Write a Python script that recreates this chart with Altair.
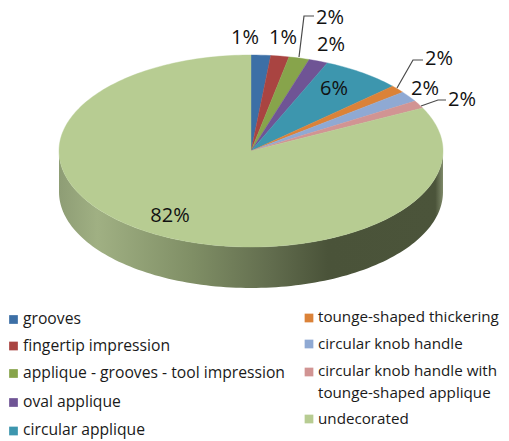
import math
import altair as alt
import pandas as pd

categories = ["grooves", "fingertip impression", "applique - grooves - tool impression",
              "oval applique", "circular applique", "tounge-shaped thickering",
              "circular knob handle", "circular knob handle with tounge-shaped applique",
              "undecorated"]
values = [1.64, 1.53, 1.73, 1.60, 6.70, 1.30, 1.80, 1.30, 82.40]
slice_colors = ["#3c6fa6", "#a94441", "#87a44b", "#6f5495", "#3d96ae",
                "#db8238", "#8fa9d3", "#d19493", "#b7cc92"]
label_texts = ["1%", "1%", "2%", "2%", "6%", "2%", "2%", "2%", "82%"]

# Layout (page pixel coordinates)
CX, CY, RX, RY, DEPTH = 251, 151, 192, 96, 41
label_x = [245, 283, 330, 331, 334, 439, 425, 462, 170]
label_y = [38, 38, 18, 45, 89, 59, 89, 100, 216]
leaders = [[(299, 57), (304, 16), (314, 16)],
           [(397, 88), (413, 60), (423, 60)],
           [(421, 106), (438, 100), (446, 100)]]
legend_rows = [
    (13.5, 319.5, 23, 319, "grooves", 0),
    (13.5, 346, 23, 346, "fingertip impression", 1),
    (13.5, 373.5, 23, 373, "applique - grooves - tool impression", 2),
    (13.5, 402.5, 23, 402, "oval applique", 3),
    (13.5, 431, 23, 430, "circular applique", 4),
    (309, 318, 318, 317, "tounge-shaped thickering", 5),
    (309, 344, 318, 344, "circular knob handle", 6),
    (309, 372, 318, 371, "circular knob handle with", 7),
    (309, 419, 318, 419, "undecorated", 8),
]
extra_line = ("tounge-shaped applique", 318, 393)

FONT = "Open Sans"
W, H = 493, 433
xs = alt.X("x:Q", scale=alt.Scale(domain=[8, 8 + W], nice=False, zero=False), axis=None)
ys = alt.Y("y:Q", scale=alt.Scale(domain=[8, 8 + H], reverse=True, nice=False, zero=False), axis=None)


def rim(t):
    return CX + RX * math.sin(t), CY - RY * math.cos(t)


# Top-face wedges
rows = []
start = 0.0
total = sum(values)
for k, (name, v) in enumerate(zip(categories, values)):
    a0 = start / total * 2 * math.pi
    a1 = (start + v) / total * 2 * math.pi
    n = max(3, int(v * 3))
    pts = [(CX, CY)] + [rim(a0 + (a1 - a0) * i / n) for i in range(n + 1)] + [(CX, CY)]
    rows += [{"name": name, "x": p[0], "y": p[1], "i": i} for i, p in enumerate(pts)]
    start += v
wedges = pd.DataFrame(rows)

# Side wall of the disc
side_pts = []
for i in range(121):
    t = math.pi / 2 + math.pi * i / 120
    x, y = rim(t)
    side_pts.append((x, y + DEPTH))
for i in range(121):
    t = 3 * math.pi / 2 - math.pi * i / 120
    side_pts.append(rim(t))
side = pd.DataFrame([{"x": p[0], "y": p[1], "i": i} for i, p in enumerate(side_pts)])

side_fill = alt.Gradient(
    gradient="linear", x1=0, x2=1, y1=0, y2=0,
    stops=[alt.GradientStop(offset=0, color="#8e9d75"),
           alt.GradientStop(offset=0.10, color="#a0b083"),
           alt.GradientStop(offset=0.35, color="#7f8e65"),
           alt.GradientStop(offset=0.55, color="#626d4e"),
           alt.GradientStop(offset=0.70, color="#4a5339"),
           alt.GradientStop(offset=0.98, color="#4b543a"),
           alt.GradientStop(offset=1, color="#7f8a6a")],
)
side_layer = alt.Chart(side).mark_line(filled=True, fill=side_fill, interpolate="linear").encode(
    x=xs, y=ys, order="i:Q")

top_layer = alt.Chart(wedges).mark_line(filled=True, strokeWidth=0.4, interpolate="linear").encode(
    x=xs, y=ys, order="i:Q", detail="name:N",
    fill=alt.Fill("name:N", scale=alt.Scale(domain=categories, range=slice_colors), legend=None),
    stroke=alt.Stroke("name:N", scale=alt.Scale(domain=categories, range=slice_colors), legend=None),
)

lead_df = pd.DataFrame([{"g": g, "x": p[0], "y": p[1], "i": i}
                        for g, line in enumerate(leaders) for i, p in enumerate(line)])
lead_layer = alt.Chart(lead_df).mark_line(color="#4a4a4a", strokeWidth=1.2).encode(
    x=xs, y=ys, order="i:Q", detail="g:N")

lab_df = pd.DataFrame({"x": label_x, "y": label_y, "t": label_texts})
lab_layer = alt.Chart(lab_df).mark_text(font=FONT, fontSize=20, color="#111111", baseline="middle").encode(
    x=xs, y=ys, text="t:N")

sw_df = pd.DataFrame([{"x": r[0], "y": r[1], "name": categories[r[5]]} for r in legend_rows])
sw_layer = alt.Chart(sw_df).mark_square(size=76, opacity=1, filled=True).encode(
    x=xs, y=ys,
    color=alt.Color("name:N", scale=alt.Scale(domain=categories, range=slice_colors), legend=None))

left_txt = [{"x": r[2], "y": r[3], "t": r[4]} for r in legend_rows if r[2] < 100]
right_txt = [{"x": r[2], "y": r[3], "t": r[4]} for r in legend_rows if r[2] >= 100]
right_txt.append({"x": extra_line[1], "y": extra_line[2], "t": extra_line[0]})
txt_left = alt.Chart(pd.DataFrame(left_txt)).mark_text(
    font=FONT, fontSize=15.7, color="#1a1a1a", align="left", baseline="middle").encode(
    x=xs, y=ys, text="t:N")
txt_right = alt.Chart(pd.DataFrame(right_txt)).mark_text(
    font=FONT, fontSize=15.2, color="#1a1a1a", align="left", baseline="middle").encode(
    x=xs, y=ys, text="t:N")

chart = alt.layer(side_layer, top_layer, lead_layer, lab_layer, sw_layer, txt_left, txt_right).properties(
    width=W, height=H, padding=0, autosize=alt.AutoSizeParams(type="none"),
    background="white",
).configure_view(stroke=None)

chart.save("out.html", embed_options={"renderer": "svg", "actions": False})
